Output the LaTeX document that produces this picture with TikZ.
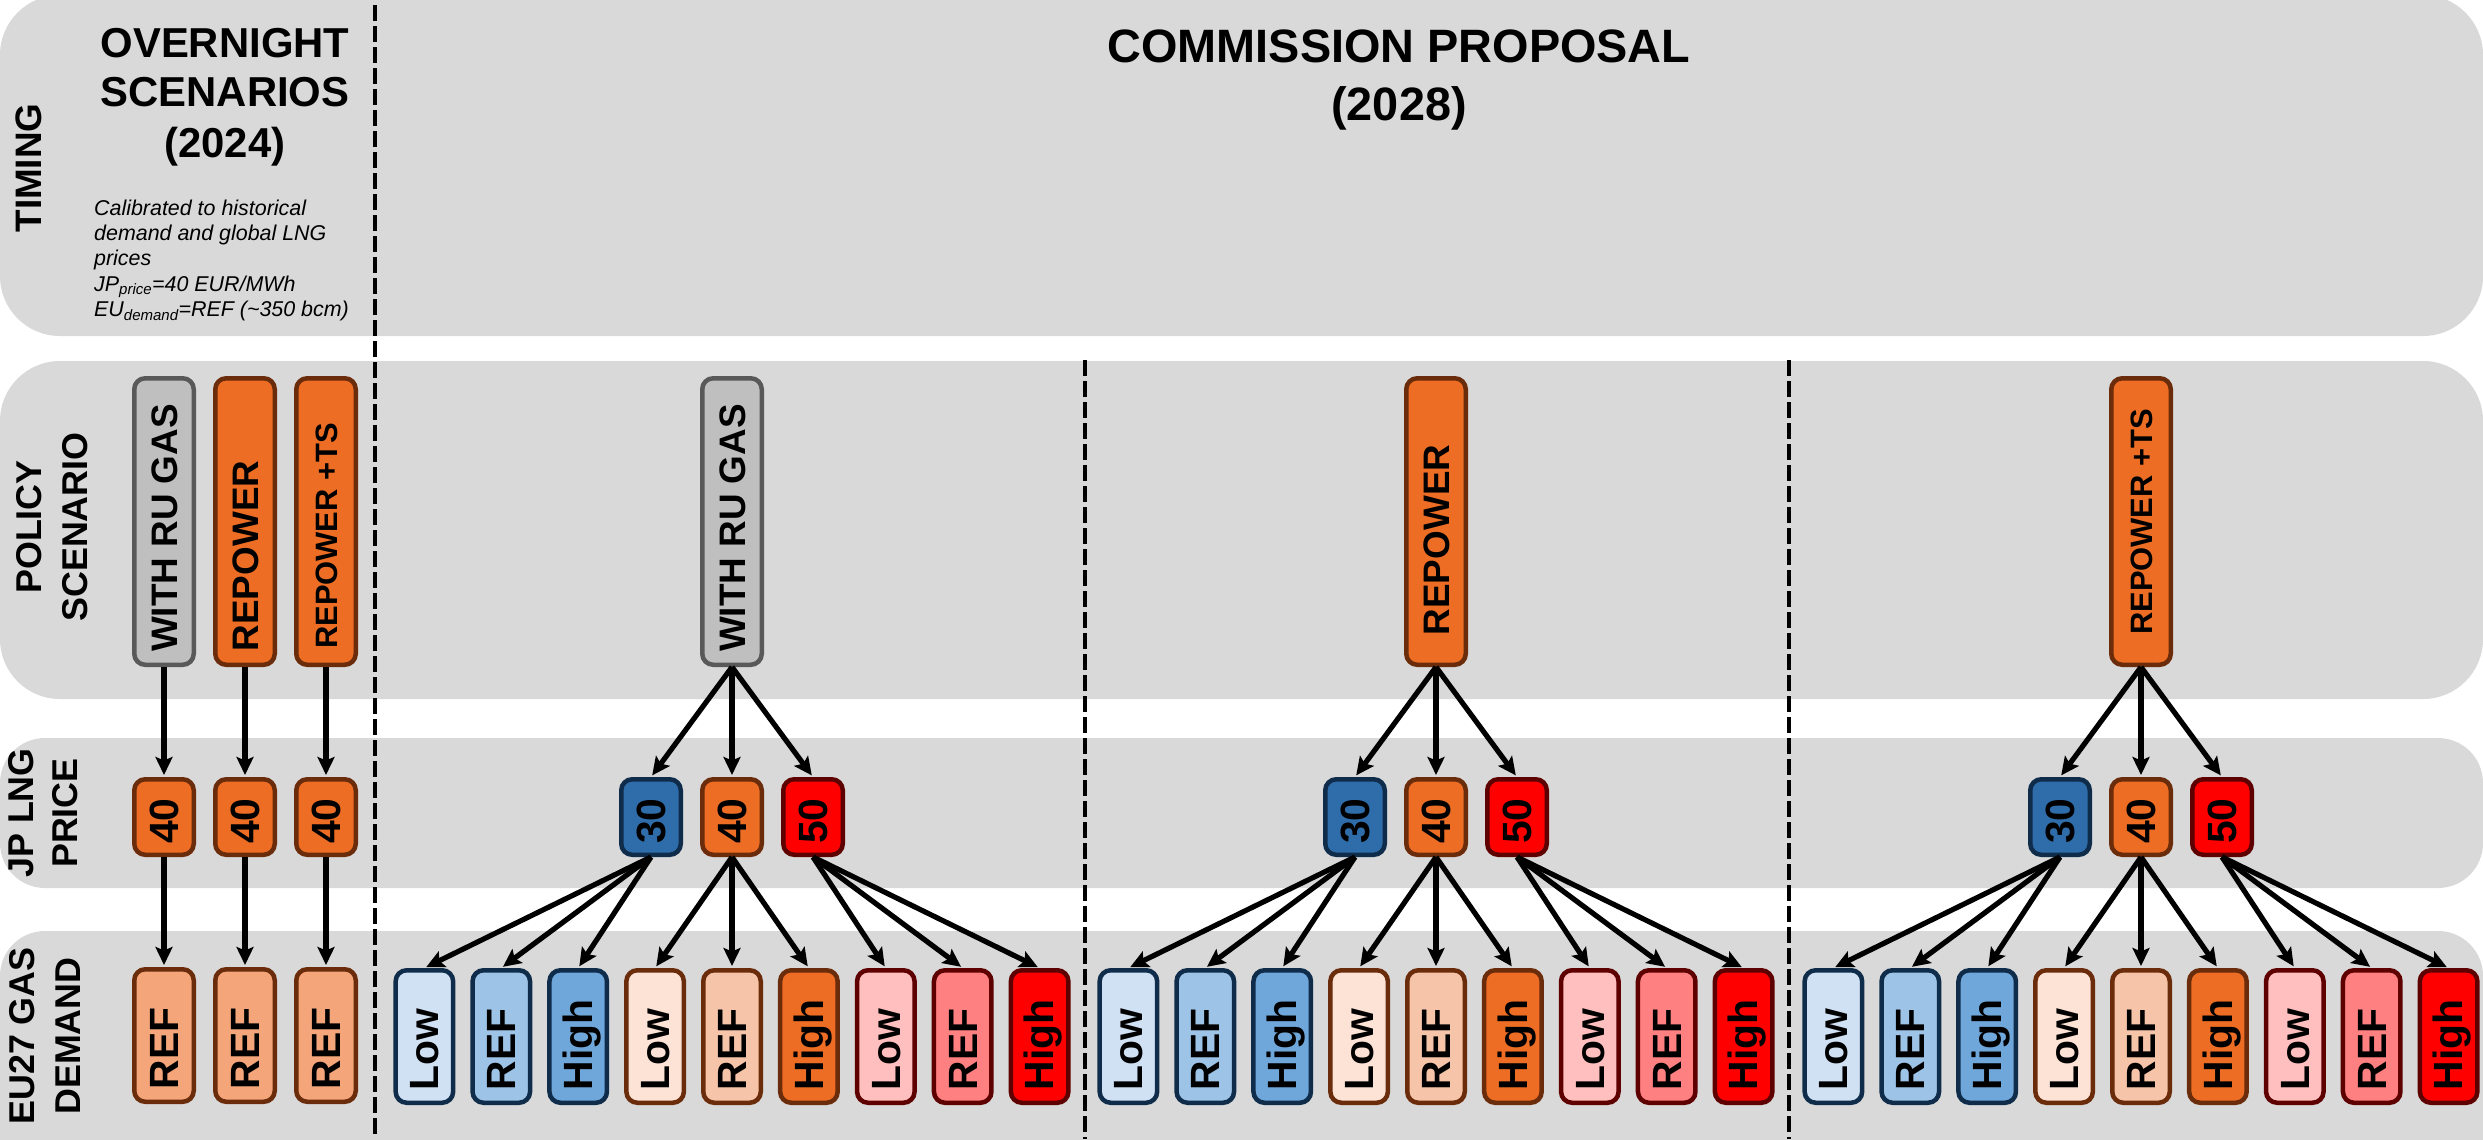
\documentclass[tikz,border=0pt]{standalone}
\usepackage{fontspec}
\setmainfont{Liberation Sans}
\usetikzlibrary{arrows.meta}
\definecolor{bandgray}{HTML}{D9D9D9}
\definecolor{grayfill}{HTML}{BFBFBF}
\definecolor{graydraw}{HTML}{595959}
\definecolor{orangefill}{HTML}{EC6D23}
\definecolor{orangedraw}{HTML}{6B2C0B}
\definecolor{bluefill}{HTML}{2E6DAA}
\definecolor{bluedraw}{HTML}{0F2D4B}
\definecolor{redfill}{HTML}{FF0000}
\definecolor{reddraw}{HTML}{5E0000}
\definecolor{dblow}{HTML}{D0E1F4}
\definecolor{dbref}{HTML}{9DC3E6}
\definecolor{dbhigh}{HTML}{6FA7DB}
\definecolor{dolow}{HTML}{FCE3D6}
\definecolor{doref}{HTML}{F6C4A8}
\definecolor{drlow}{HTML}{FFBFBF}
\definecolor{drref}{HTML}{FF8080}
\definecolor{leftref}{HTML}{F4A67A}
\begin{document}
\begin{tikzpicture}[x=1bp,y=-1bp,
  boxbase/.style={draw, line width=4.5bp, rounded corners=11bp, inner sep=0pt},
  polbox/.style={boxbase, minimum width=59.5bp, minimum height=286.5bp},
  pricebox/.style={boxbase, minimum width=59.5bp, minimum height=75.5bp},
  dembox/.style={boxbase, minimum width=57.5bp, minimum height=132.5bp},
  leftdem/.style={boxbase, minimum width=59.5bp, minimum height=132.5bp},
  boxtxt/.style={rotate=90, inner sep=0pt, text depth=0pt, text height=28.6bp, font=\bfseries\fontsize{41}{48}\selectfont},
  poltxt/.style={rotate=90, inner sep=0pt, text depth=0pt, text height=26.5bp, font=\bfseries\fontsize{37}{44}\selectfont},
  smalltxt/.style={rotate=90, inner sep=0pt, text depth=0pt, text height=22.2bp, font=\bfseries\fontsize{31}{37}\selectfont},
  arr/.style={line width=5.2bp, -{Stealth[length=18bp,width=17bp,inset=3.5bp]}, shorten >=2bp},
  dashline/.style={line width=4.8bp, dash pattern=on 16bp off 5bp},
  sidelbl/.style={rotate=90, align=center, inner sep=0pt},
]
\useasboundingbox (0,0) rectangle (2483,1139);
\clip (0,0) rectangle (2483,1139);
\fill[white] (0,0) rectangle (2483,1139);
% bands
\fill[bandgray, rounded corners=60bp] (0,-5) rectangle (2483,336);
\fill[bandgray, rounded corners=60bp] (0,361) rectangle (2483,699);
\fill[bandgray, rounded corners=45bp] (0,738) rectangle (2483,888);
\fill[bandgray, rounded corners=45bp] (0,931) rectangle (2483,1210);
% dashed separators
\coordinate (s1a) at (375,5);    \coordinate (s1b) at (375,1139);
\coordinate (s2a) at (1085,360); \coordinate (s2b) at (1085,1139);
\coordinate (s3a) at (1789,360); \coordinate (s3b) at (1789,1139);
\draw[dashline] (s1a) -- (s1b);
\draw[dashline] (s2a) -- (s2b);
\draw[dashline] (s3a) -- (s3b);
% row labels
\node[sidelbl, font=\bfseries\fontsize{37}{45}\selectfont] (tim) at (29,168) {TIMING};
\node[sidelbl, font=\bfseries\fontsize{36}{46}\selectfont] (pol) at (52,527) {POLICY\\SCENARIO};
\node[sidelbl, font=\bfseries\fontsize{36}{44}\selectfont] (jpl) at (43,813) {JP LNG\\PRICE};
\node[sidelbl, font=\bfseries\fontsize{36}{46}\selectfont] (eul) at (45,1036) {EU27 GAS\\DEMAND};
% titles
\node[anchor=base, inner sep=0pt, font=\bfseries\fontsize{42}{50}\selectfont] (ov1) at (225,57) {OVERNIGHT};
\node[anchor=base, inner sep=0pt, font=\bfseries\fontsize{42}{50}\selectfont] (ov2) at (225,106) {SCENARIOS};
\node[anchor=base, inner sep=0pt, font=\bfseries\fontsize{42}{50}\selectfont] (ov3) at (225,157) {(2024)};
\node[anchor=north west, align=left, inner sep=0pt, font=\itshape\fontsize{21.5}{25.5}\selectfont] (cal) at (94,199.3)
  {Calibrated to historical\\demand and global LNG\\prices\\JP\textsubscript{price}=40 EUR/MWh\\EU\textsubscript{demand}=REF (\textasciitilde350 bcm)};
\node[anchor=base, inner sep=0pt, font=\bfseries\fontsize{47}{56}\selectfont] (cp1) at (1399,62) {COMMISSION PROPOSAL};
\node[anchor=base, inner sep=0pt, font=\bfseries\fontsize{47}{56}\selectfont] (cp2) at (1399,120) {(2028)};
% left (overnight) section
\node[polbox, fill=grayfill, draw=graydraw] (P01) at (164,521.5) {};
\node[poltxt] (P01t) at (164,528) {WITH RU GAS};
\node[polbox, fill=orangefill, draw=orangedraw] (P02) at (245,521.5) {};
\node[poltxt] (P02t) at (245,556) {REPOWER};
\node[polbox, fill=orangefill, draw=orangedraw] (P03) at (326,521.5) {};
\node[smalltxt] (P03t) at (326,536) {REPOWER +TS};
\foreach \i/\x in {1/164, 2/245, 3/326} {
  \node[pricebox, fill=orangefill, draw=orangedraw] (J0\i) at (\x,817) {};
  \node[boxtxt, anchor=west] (J0\i t) at ([yshift=13bp]J0\i.south) {40};
  \node[leftdem, fill=leftref, draw=orangedraw] (D0\i) at (\x,1035.5) {};
  \node[boxtxt, anchor=west] (D0\i t) at ([yshift=14.75bp]D0\i.south) {REF};
  \draw[arr] (P0\i.south) -- (J0\i.north);
  \draw[arr] (J0\i.south) -- (D0\i.north);
}
% commission sections: policy boxes
\node[polbox, fill=grayfill, draw=graydraw] (P1) at (732,521.5) {};
\node[poltxt] (P1t) at (732,528) {WITH RU GAS};
\node[polbox, fill=orangefill, draw=orangedraw] (P2) at (1436,521.5) {};
\node[poltxt] (P2t) at (1436,540) {REPOWER};
\node[polbox, fill=orangefill, draw=orangedraw] (P3) at (2141,521.5) {};
\node[smalltxt] (P3t) at (2141,522) {REPOWER +TS};
\foreach \s/\cx in {1/732, 2/1436, 3/2141} {
  \foreach \j/\fc/\dc/\lab in {1/bluefill/bluedraw/30, 2/orangefill/orangedraw/40, 3/redfill/reddraw/50} {
    \node[pricebox, fill=\fc, draw=\dc] (J\s\j) at ({\cx+(\j-2)*81},817) {};
    \node[boxtxt, anchor=west] (J\s\j t) at ([yshift=13bp]J\s\j.south) {\lab};
  }
  \foreach \k/\fc/\dc/\lab in {1/dblow/bluedraw/Low, 2/dbref/bluedraw/REF, 3/dbhigh/bluedraw/High,
                               4/dolow/orangedraw/Low, 5/doref/orangedraw/REF, 6/orangefill/orangedraw/High,
                               7/drlow/reddraw/Low, 8/drref/reddraw/REF, 9/redfill/reddraw/High} {
    \node[dembox, fill=\fc, draw=\dc] (D\s\k) at ({\cx+(\k-5)*76.9},1036.5) {};
    \node[boxtxt, anchor=west] (D\s\k t) at ([yshift=14.75bp]D\s\k.south) {\lab};
  }
  \foreach \j in {1,2,3} {
    \draw[arr] (P\s.south) -- (J\s\j.north);
    \foreach \m in {1,2,3} {
      \pgfmathtruncatemacro\k{3*(\j-1)+\m}
      \draw[arr] (J\s\j.south) -- (D\s\k.north);
    }
  }
}
\end{tikzpicture}
\end{document}
